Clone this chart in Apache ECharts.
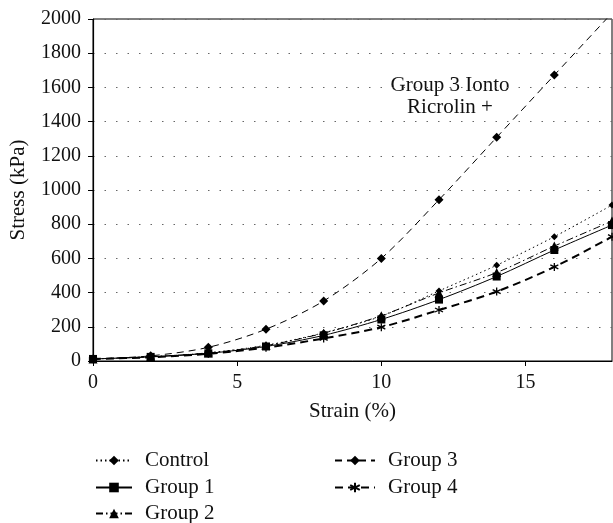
<!DOCTYPE html>
<html>
<head>
<meta charset="utf-8">
<script src="https://cdn.jsdelivr.net/npm/echarts@6/dist/echarts.min.js"></script>
<style>html,body{margin:0;padding:0;background:#fff}#c{width:613px;height:523px}</style>
</head>
<body>
<div id="c"></div>
<script>
const strain = [0, 2, 4, 6, 8, 10, 12, 14, 16, 18];
const control = [12, 25, 48, 92, 165, 262, 410, 560, 727, 912];
const group1 = [12, 24, 45, 85, 150, 243, 359, 494, 649, 795];
const group2 = [12, 25, 47, 90, 163, 265, 398, 517, 672, 818];
const group3 = [12, 30, 80, 186, 351, 600, 943, 1308, 1672, 2035];
const group4 = [12, 22, 42, 78, 132, 198, 298, 406, 550, 727];
const annotation = 'Group 3 Ionto\nRicrolin +';

const FONT = '"Liberation Serif", "DejaVu Serif", serif';
const pair = arr => strain.map((x, i) => [x, arr[i]]);
const asterisk = 'path://M5,0L5,10M0.67,2.5L9.33,7.5M0.67,7.5L9.33,2.5';
const legendText = { fontFamily: FONT, fontSize: 21, color: '#111', padding: [0, 0, 0, 8] };
const mkLegend = (name, left, centerY, w) => ({
  data: [name], orient: 'vertical', left: left, top: centerY - 12,
  itemWidth: w, itemHeight: 12, textStyle: legendText
});

const chart = echarts.init(document.getElementById('c'));
chart.setOption({
  animation: false,
  backgroundColor: '#fff',
  textStyle: { fontFamily: FONT, color: '#111' },
  grid: { left: 92, right: 1, top: 19, bottom: 162, show: true, borderColor: '#000', borderWidth: 1 },
  xAxis: {
    type: 'value', min: 0, max: 18, interval: 5,
    name: 'Strain (%)', nameLocation: 'middle', nameGap: 40,
    nameTextStyle: { fontFamily: FONT, fontSize: 21, color: '#111' },
    axisLine: { show: true, lineStyle: { color: '#000', width: 1.2 } },
    axisTick: { show: true, inside: false, length: 5, lineStyle: { color: '#000' } },
    axisLabel: { fontFamily: FONT, fontSize: 20, color: '#111', margin: 12, showMaxLabel: false },
    splitLine: { show: false }
  },
  yAxis: {
    type: 'value', min: 0, max: 2000, interval: 200,
    name: 'Stress (kPa)', nameLocation: 'middle', nameGap: 64,
    nameTextStyle: { fontFamily: FONT, fontSize: 21, color: '#111' },
    axisLine: { show: true, lineStyle: { color: '#000', width: 1.2 } },
    axisTick: { show: true, inside: false, length: 5, lineStyle: { color: '#000' } },
    axisLabel: { fontFamily: FONT, fontSize: 20, color: '#111', margin: 12, formatter: v => String(v) },
    splitLine: { show: true, lineStyle: { color: '#666', width: 1, type: [1.5, 10] } }
  },
  legend: [
    mkLegend('Control', 90, 457, 36),
    mkLegend('Group 1', 90, 484, 36),
    mkLegend('Group 2', 90, 510, 36),
    mkLegend('Group 3', 329, 457, 40),
    mkLegend('Group 4', 329, 484, 40)
  ],
  graphic: [{
    type: 'text', x: 450, y: 74,
    style: { text: annotation, fontFamily: FONT, fontSize: 21, fill: '#111', align: 'center', verticalAlign: 'top', lineHeight: 22 }
  }],
  series: [
    {
      name: 'Control', type: 'line', data: pair(control), smooth: 0.3, clip: true,
      symbol: 'diamond', symbolSize: 7,
      lineStyle: { color: '#000', width: 1, type: [1.5, 3] },
      itemStyle: { color: '#000' }
    },
    {
      name: 'Group 1', type: 'line', data: pair(group1), smooth: 0.3, clip: true,
      symbol: 'rect', symbolSize: 8,
      lineStyle: { color: '#000', width: 1, type: 'solid' },
      itemStyle: { color: '#000' }
    },
    {
      name: 'Group 2', type: 'line', data: pair(group2), smooth: 0.3, clip: true,
      symbol: 'triangle', symbolSize: 9,
      lineStyle: { color: '#000', width: 1, type: [7, 3, 1.5, 3] },
      itemStyle: { color: '#000' }
    },
    {
      name: 'Group 3', type: 'line', data: pair(group3), smooth: 0.3, clip: true,
      symbol: 'diamond', symbolSize: 9,
      lineStyle: { color: '#000', width: 1, type: [7, 5] },
      itemStyle: { color: '#000' }
    },
    {
      name: 'Group 4', type: 'line', data: pair(group4), smooth: 0.3, clip: true,
      symbol: asterisk, symbolSize: 8,
      lineStyle: { color: '#000', width: 2, type: [8, 5] },
      itemStyle: { color: '#000', borderColor: '#000', borderWidth: 1.3 }
    }
  ]
});
</script>
</body>
</html>
